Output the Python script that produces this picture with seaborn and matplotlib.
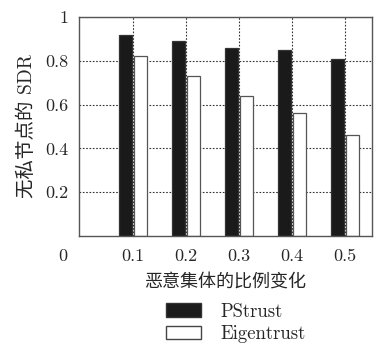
import matplotlib
matplotlib.use("Agg")
import matplotlib.pyplot as plt
import seaborn as sns
import pandas as pd
from matplotlib.patches import Patch

categories = ["0.1", "0.2", "0.3", "0.4", "0.5"]
pstrust = [0.92, 0.89, 0.86, 0.85, 0.81]
eigentrust = [0.82, 0.73, 0.64, 0.56, 0.46]
series_names = ["PStrust", "Eigentrust"]
y_ticks = [0.2, 0.4, 0.6, 0.8, 1.0]
y_tick_labels = ["0.2", "0.4", "0.6", "0.8", "1"]

df = pd.DataFrame({
    "x": categories * 2,
    "v": pstrust + eigentrust,
    "s": [series_names[0]] * len(categories) + [series_names[1]] * len(categories),
})

sns.set_style("white")
FONT = ["cmr10", "Noto Sans CJK SC", "DejaVu Serif"]
plt.rcParams["font.family"] = FONT
plt.rcParams["axes.unicode_minus"] = False

fig = plt.figure(figsize=(3.77, 3.45), dpi=100)
ax = fig.add_axes([79 / 377, 1 - 236 / 345, (372 - 79) / 377, (236 - 17) / 345])

sns.barplot(data=df, x="x", y="v", hue="s", order=categories, hue_order=series_names,
            palette=["#1a1a1a", "white"], width=0.59, gap=0.17, ax=ax,
            edgecolor="#333333", linewidth=0.9, legend=False, saturation=1)
for p in ax.patches[len(categories):]:
    p.set_edgecolor("#555555")

ax.set_xlim(-1.02, 4.51)
ax.set_ylim(0, 1)
ax.set_axisbelow(True)
ax.grid(True, linestyle=(0, (1.5, 1.5)), color="#333333", linewidth=0.8)
ax.set_yticks(y_ticks)
ax.set_yticklabels(y_tick_labels)
ax.tick_params(axis="both", length=0, labelsize=13, pad=8)
ax.tick_params(axis="x", pad=9)
for s in ax.spines.values():
    s.set_color("#555555")
    s.set_linewidth(1.0)
ax.set_xlabel("恶意集体的比例变化", fontsize=13, labelpad=6)
ax.set_ylabel("无私节点的 SDR", fontsize=14, labelpad=6)

# stray "0" label at bottom left
fig.text(67 / 377, 1 - 256 / 345, "0", ha="right", va="center", fontsize=13)

handles = [Patch(facecolor="#1a1a1a", edgecolor="#333333"),
           Patch(facecolor="white", edgecolor="#444444")]
fig.legend(handles, series_names, loc="center", bbox_to_anchor=(0.625, 1 - 323 / 345),
           frameon=False, fontsize=13.5, handlelength=1.9, handleheight=0.7,
           labelspacing=0.25, handletextpad=1.0)

fig.savefig("out.png", dpi=100)
